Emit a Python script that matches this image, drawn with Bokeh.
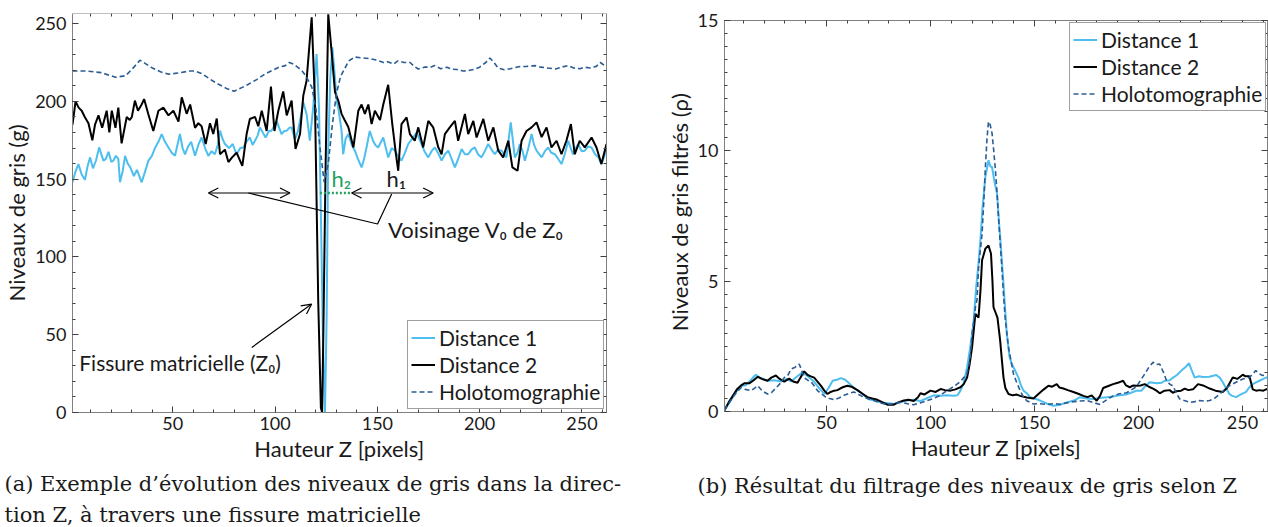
from bokeh.plotting import figure
from bokeh.models import (Legend, LegendItem, LinearAxis, SingleIntervalTicker,
                          Range1d, Arrow, OpenHead, Label, Title)
from bokeh.layouts import row
from bokeh.embed import file_html
from bokeh.resources import INLINE

# ---------------- data: (a) grey levels along Z ----------------
a_d1_z = [1, 2.5, 3.9, 5.5, 7.1, 8.3, 9.6, 11, 12.5, 14, 16.1, 17.3, 18.6, 20, 21, 22.2, 23.4, 24.2, 25.5, 26.7,
          28, 29.1, 31, 32.5, 34.8, 36.5, 38.1, 39.8, 41.3, 43, 44.6, 46.2, 47.9, 49.5, 51.1, 53.5, 54.8, 56, 57.5,
          59, 60.9, 62.5, 64.1, 65.8, 67.4, 69, 70.6, 72, 73.1, 74.3, 75.5, 77.5, 79.3, 81.2, 83, 84.5, 86, 87.7,
          89, 90.2, 91.5, 92.6, 94, 95.4, 97, 98.3, 99.5, 100.8, 102, 103.2, 104.5, 105.7, 107, 108.1, 109.7, 111,
          112.2, 113.8, 115.4, 117, 118.7, 120.3, 121.5, 122.5, 123.5, 124.4, 125.2, 126, 127, 128, 129.3, 130.1,
          131, 132.5, 133.3, 134.5, 135.8, 137.5, 139, 140.5, 142.3, 143.5, 144.7, 146.3, 147.9, 149, 150.4, 152.9,
          155.3, 157, 158.6, 160, 161.8, 163.5, 165.1, 167, 169.2, 171.6, 173, 174.9, 176.5, 178.1, 180, 181.4, 183,
          184.7, 186.3, 187.9, 189.5, 191.2, 192.8, 194.4, 196, 197.6, 199.2, 200.9, 202.5, 204.2, 205.8, 207.4, 209,
          210.7, 213.1, 215.2, 217.2, 218.5, 219.6, 221, 222.1, 223.8, 225.4, 226.6, 227.8, 230.3, 231.9, 233.5, 235,
          236.8, 238.4, 240, 241.6, 243.3, 244.5, 245.7, 247, 248.2, 249.8, 251.4, 253, 254.7, 256.4, 258, 259.5,
          261, 262]
a_d1_v = [148, 155, 159.7, 153, 149.6, 158, 164, 157, 162, 170.4, 161.9, 163, 167.6, 161, 162, 165, 163, 148, 155,
          165, 160, 158, 152, 156, 148, 155, 161.9, 165, 170, 174, 179, 174, 170.4, 167, 165, 179, 170, 166, 171,
          174, 165, 172, 176.8, 170, 165, 168, 166, 172, 181.2, 176, 172.6, 170, 172.6, 166, 170, 170.4, 174, 176.8,
          172, 174.7, 178, 183.3, 180, 176.8, 181, 181.2, 184, 187.5, 183, 179, 181, 181.2, 183, 183.3, 175.8, 180,
          187.5, 199.4, 191.9, 174.7, 197, 230.5, 195, 120, 40, 0, 60, 170, 215, 234.7, 215, 200.5,
          195, 181.2, 166, 176, 179, 172, 168.3, 163, 157.6, 163, 170.4, 181, 174.7, 172, 170.4, 176.8,
          164, 170, 168.3, 165, 161.9, 167, 172.6, 176, 180, 172.6, 168, 164, 168, 170.4, 166, 161.9, 166,
          168.3, 163, 157.6, 163, 169.3, 166, 166, 169, 170.4, 166, 164, 168, 172.6, 169, 166, 169,
          168.3, 164, 186.5, 164, 167, 172.6, 168, 161.9, 170, 179, 172, 168.3, 164, 168, 170.4, 167,
          166, 163, 159.7, 166, 174.7, 170, 166, 170, 172.6, 168, 168.3, 171, 170.4, 166, 164, 159.7,
          165, 170.4]

a_d2_z = [1, 2.5, 4, 5.5, 7, 8.8, 10.7, 12, 13.7, 15.5, 17.7, 19, 20.2, 22, 23.4, 25, 27.5, 29, 30, 31.5, 33, 34.8,
          36, 38, 40.5, 43, 45.4, 47.9, 50.3, 52.8, 54.4, 56.8, 58.5, 60.9, 62.5, 64.1, 66.1, 68.2, 69.8, 71.5, 73.1,
          75.5, 77.2, 79, 81.2, 84, 86.1, 87.7, 90.2, 91.8, 93.5, 95.9, 98, 99.7, 101.6, 104, 105.7, 108.1, 110,
          112.2, 113.8, 115.4, 117.9, 119.5, 121.1, 122.4, 123, 123.6, 124.7, 126, 127.6, 129.3, 130.9, 132.5, 134,
          135.8, 138.3, 140.7, 142.3, 143.9, 145.6, 147.2, 148.8, 151.3, 152.9, 155.3, 157.3, 159.1, 160.2, 161.8,
          164.3, 165.9, 168.3, 170, 172.4, 174.9, 177.3, 179.8, 181.4, 183, 185.4, 187.9, 189.5, 192.8, 194.4, 196.9,
          198.5, 201.8, 204.2, 206.7, 209.1, 211.5, 214, 216, 218.5, 220.5, 222.9, 225.4, 227.8, 230.3, 232.7, 235.1,
          237.6, 240, 242.4, 244.6, 246.5, 248.9, 251.4, 254.7, 257.1, 259.5, 262]
a_d2_v = [185, 200, 196, 194, 190, 186, 175, 185, 191, 183, 194, 180, 194, 183, 196, 173, 190, 188, 190, 200.5, 194,
          198, 201.5, 192, 181, 194, 196, 191, 194, 187, 202.6, 192, 198, 183, 186, 184, 172.6, 186, 179, 189, 166,
          169, 161, 164, 167, 158.6, 179, 188.7, 190, 184, 194, 181, 209.5, 181, 194, 206.4, 191, 200.5, 169.4,
          179, 203.7, 213.3, 254, 200.5, 71.8, 3, 0, 50, 157.6, 256, 232.6, 206, 200.5, 192, 188,
          183.5, 170.4, 194, 198, 192, 198, 185.4, 194, 188, 198, 210.7, 185.4, 166, 155.4, 185.4,
          189.7, 179, 174.7, 183.3, 170.4, 187.5, 183.3, 170.4, 166, 179, 183.3, 187.5, 174.7, 191.9, 179, 187.5,
          176.8, 188.7, 174.7, 183.3, 168.3, 164, 174.7, 157.6, 155.4, 174.7, 181, 183.3, 186.5, 177, 183.3, 170.4,
          174.7, 166, 174.7, 185.4, 166, 174.7, 170.4, 176.8, 170.4, 159.7, 172.6]

a_ho_z = [1, 8, 15, 22, 27, 31, 34, 37, 40, 44, 48, 54, 58, 61, 64, 68, 71, 76, 80, 84, 87, 91, 95, 98, 102, 105,
          107, 109, 111, 113, 115, 118, 120, 122, 124, 126, 128, 130, 132, 134, 136, 139, 142, 146, 150, 153, 155,
          158, 160, 163, 166, 168, 170, 173, 176, 178, 181, 184, 186, 189, 192, 194, 197, 200, 203, 205, 207, 209,
          212, 215, 219, 223, 227, 230, 233, 237, 240, 243, 246, 249, 251, 254, 257, 259, 261, 262]
a_ho_v = [219.5, 219.5, 218.5, 215.5, 216.5, 222, 226.5, 224, 221.5, 219, 217.5, 218.5, 219.5, 219.5, 218, 214.5,
          212, 208.5, 206.5, 209, 211, 214, 217.5, 219.5, 222, 223, 225, 224, 222, 220, 216.5, 209, 195, 170, 148,
          160, 185, 205, 216, 221, 226, 228.5, 228, 227.5, 226.5, 225, 225.5, 224, 226, 225, 225, 222.5, 220.8, 222,
          222, 223, 221, 222, 220.8, 220.5, 219.5, 219.7, 220.5, 222, 225, 227.9, 225, 221.5, 220.3, 221, 222.3,
          222.5, 223, 222, 221.5, 220.8, 222, 223, 221.5, 221, 222, 221.5, 222.5, 225, 223, 223]

# ---------------- data: (b) filtered grey levels ----------------
b_d1_z = [1, 3, 5, 7, 9, 11, 13, 16, 18, 21.7, 25, 28, 31, 33, 36, 38.5, 41, 44, 46.5, 49, 51, 53, 55, 57, 59, 60,
          62, 65, 67, 70, 73, 76, 79, 82.4, 85, 88.8, 92, 95, 98, 101.6, 105, 108, 111, 113, 114.4, 116, 117.6, 119,
          120.7, 122, 123, 124, 125, 126.4, 127.9, 128.8, 129.6, 130.8, 132, 133, 133.5, 134.3, 135.1, 136, 136.7,
          138, 139.1, 140.5, 142.3, 143.5, 144.7, 146.3, 147.9, 150, 152.7, 156, 159.1, 162, 165.5, 169, 171.9, 175,
          178.2, 181, 184.7, 188, 191, 194, 197.4, 199, 201.4, 203, 205.4, 207, 208.6, 211, 212.6, 215, 216.6, 218.5,
          220.6, 222.5, 224.3, 225.5, 227, 229, 231, 234, 237.4, 239, 240.5, 242, 243.7, 245, 246.9, 249, 251.7, 253,
          254.9, 256.5, 258.1, 260, 261.3, 262]
b_d1_v = [0.05, 0.3, 0.55, 0.8, 0.99, 1.0, 1.15, 1.41, 1.3, 1.18, 1.2, 1.15, 1.25, 1.15, 1.35, 1.5, 1.35, 1.15, 0.9,
          0.67, 0.9, 1.18, 1.22, 1.28, 1.22, 1.15, 1.0, 0.8, 0.7, 0.48, 0.42, 0.35, 0.33, 0.29, 0.35, 0.42, 0.45, 0.4,
          0.5, 0.62, 0.6, 0.62, 0.6, 0.62, 0.8, 1.1, 1.7, 2.4, 3.4, 4.8, 5.6, 6.57, 7.8, 9.0, 9.64, 9.4, 9.38, 8.8,
          8.36, 7.2, 6.69, 5.8, 4.9, 3.8, 2.98, 2.1, 1.82, 1.6, 1.3, 1.0, 0.8, 0.7, 0.55, 0.5, 0.42, 0.3, 0.22, 0.25,
          0.35, 0.42, 0.55, 0.5, 0.48, 0.52, 0.55, 0.58, 0.62, 0.65, 0.75, 0.8, 0.8, 0.95, 1.12, 1.1, 1.08, 1.1,
          1.18, 1.2, 1.3, 1.4, 1.57, 1.7, 1.85, 1.6, 1.3, 1.35, 1.32, 1.33, 1.4, 1.3, 1.12, 0.9, 0.67, 0.6, 0.55,
          0.65, 0.75, 0.9, 1.05, 1.12, 1.18, 1.25, 1.3, 1.3]

b_d2_z = [1, 3, 5, 7, 9, 10.5, 12.9, 15, 17, 19, 21.7, 23.5, 25.7, 27.5, 29.7, 32.1, 34, 36.1, 37.5, 39.3, 41, 42.5,
          44.1, 45.7, 47.3, 49, 50.5, 52, 53.7, 55.3, 57, 58.5, 60.1, 62, 64.9, 67, 69.7, 72, 74.5, 77, 79.3, 82.4,
          84.5, 87.2, 89.5, 92, 94, 95.2, 97, 100, 102.5, 104.8, 107, 109.6, 112, 114.4, 116, 117.6, 118.8, 120,
          121.6, 123.1, 124, 124.8, 126.4, 127.9, 129.1, 129.8, 130.3, 132.2, 133.5, 134.3, 135.1, 136, 137.5,
          139.5, 141.5, 143.1, 146.3, 149.5, 152.7, 154.5, 156.7, 158.5, 160.7, 162, 163.9, 166, 168.7, 171, 173.5,
          175.5, 177.5, 179.9, 181.5, 183, 185.5, 187.8, 190, 192.6, 194, 195.8, 197.5, 199, 201, 203, 205, 207,
          209, 210.2, 212.5, 215, 216.5, 218.2, 220.5, 222.2, 224, 226.2, 228.6, 231, 234.2, 237, 240.5, 242.5,
          245.3, 247.5, 250.1, 251.5, 253.3, 254.9, 256.5, 258.1, 260, 261.3, 262]
b_d2_v = [0.05, 0.35, 0.6, 0.85, 1.0, 1.08, 1.08, 1.2, 1.33, 1.25, 1.18, 1.3, 1.38, 1.25, 1.15, 1.26, 1.15, 1.1, 1.3,
          1.54, 1.4, 1.35, 1.3, 1.15, 0.99, 0.8, 0.67, 0.75, 0.8, 0.82, 0.9, 0.95, 0.99, 0.95, 0.82, 0.7, 0.55, 0.5,
          0.45, 0.35, 0.26, 0.26, 0.35, 0.42, 0.45, 0.4, 0.55, 0.7, 0.65, 0.8, 0.75, 0.86, 0.82, 0.8, 0.85, 0.93,
          1.05, 1.3, 1.8, 2.46, 3.75, 3.6, 4.6, 5.8, 6.25, 6.37, 6.05, 5.0, 4.0, 3.6, 2.72, 2.0, 1.31, 0.9, 0.67,
          0.62, 0.65, 0.6, 0.54, 0.5, 0.73, 0.85, 0.99, 0.95, 1.05, 0.92, 0.88, 0.82, 0.75, 0.68, 0.6, 0.55, 0.62,
          0.41, 0.6, 0.9, 0.98, 1.05, 1.1, 1.18, 1.0, 0.93, 1.0, 0.99, 1.0, 1.05, 0.95, 0.88, 0.78, 0.7, 0.8, 0.82,
          0.72, 0.78, 0.8, 0.88, 0.82, 0.85, 1.05, 1.0, 0.88, 0.8, 0.75, 0.9, 1.31, 1.25, 1.41, 1.35, 1.35, 0.85,
          0.8, 0.82, 0.8, 0.85, 0.85]

b_ho_z = [1, 3, 5, 7, 9, 11, 13.8, 15.5, 17, 19, 21.7, 23.5, 25.7, 27.5, 29.7, 31.5, 33, 35, 36.9, 38, 39.3, 41,
          42.5, 44, 45.7, 47.5, 49.7, 51.5, 53.7, 56, 58.5, 61, 63.2, 65.5, 68, 70.5, 72.8, 76, 79.3, 82, 85.6, 89,
          92, 95, 98.4, 101.5, 104.8, 107, 109.6, 112, 114.4, 116, 117.6, 119, 120, 121.6, 122.4, 123.1, 124.8,
          125.6, 126.4, 127.2, 127.9, 128.7, 129.6, 130.3, 131.1, 132, 132.7, 133.5, 134.3, 135.1, 135.9, 137.5,
          139.9, 141.5, 143.1, 144.7, 146.3, 149.5, 152.7, 155.9, 159, 162.3, 165.5, 168.7, 171.9, 175.1, 178,
          181.5, 184.7, 187.8, 191, 194.3, 197, 199, 201, 203, 205, 207, 208.6, 210.2, 212, 213.4, 215, 216.6,
          218.2, 219.8, 222, 224.6, 227, 229.4, 232, 234.2, 236.5, 239, 241.5, 243.7, 246.9, 250.1, 253.3, 255,
          256.4, 258, 259.6, 261.3, 262]
b_ho_v = [0.05, 0.3, 0.55, 0.75, 0.92, 0.85, 0.8, 0.9, 0.99, 0.8, 0.67, 0.72, 0.9, 1.05, 1.3, 1.4, 1.63, 1.7, 1.82,
          1.6, 1.3, 1.2, 1.15, 1.0, 0.8, 0.68, 0.55, 0.5, 0.45, 0.52, 0.62, 0.7, 0.75, 0.65, 0.55, 0.48, 0.42, 0.33,
          0.26, 0.3, 0.35, 0.3, 0.26, 0.33, 0.42, 0.5, 0.62, 0.75, 0.88, 1.0, 1.15, 1.3, 1.47, 2.0, 2.98, 4.0, 4.3,
          5.5, 6.82, 8.0, 9.38, 10.5, 11.12, 11.0, 10.67, 10.1, 9.38, 8.4, 7.46, 6.5, 5.54, 4.5, 3.6, 2.46, 1.44,
          1.1, 0.8, 0.55, 0.41, 0.29, 0.3, 0.27, 0.3, 0.28, 0.33, 0.38, 0.4, 0.42, 0.35, 0.27, 0.45, 0.6, 0.68,
          0.72, 0.85, 0.95, 1.2, 1.44, 1.7, 1.89, 1.8, 1.82, 1.5, 1.2, 1.05, 0.98, 0.7, 0.48, 0.42, 0.35, 0.38,
          0.42, 0.4, 0.42, 0.5, 0.67, 0.85, 0.99, 1.12, 1.25, 1.3, 1.45, 1.57, 1.45, 1.38, 1.4, 1.4]

series_names = ["Distance 1", "Distance 2", "Holotomographie"]
x_label = "Hauteur Z [pixels]"
ya_label = "Niveaux de gris (g)"
yb_label = "Niveaux de gris filtrés (ρ)"
caption_a1 = "(a) Exemple d’évolution des niveaux de gris dans la direc-"
caption_a2 = "tion Z, à travers une fissure matricielle"
caption_b = "(b) Résultat du filtrage des niveaux de gris selon Z"

# ---------------- styles ----------------
C_D1 = "#4DBEEE"
C_D2 = "#000000"
C_HO = "#2B5C94"
C_GREEN = "#23A25F"
SANS = "Lato"
SERIF = "DejaVu Serif"
AX_LINE = "#808080"
TICK = "#404040"
TXT = "#1a1a1a"


def style_axis(ax, interval, minor, labels=True, label_standoff=6):
    ax.ticker = SingleIntervalTicker(interval=interval, num_minor_ticks=minor)
    ax.axis_line_color = AX_LINE
    ax.axis_line_width = 1
    ax.major_tick_in = 6
    ax.major_tick_out = 0
    ax.minor_tick_in = 3
    ax.minor_tick_out = 0
    ax.major_tick_line_color = TICK
    ax.minor_tick_line_color = TICK
    if labels:
        ax.major_label_text_font = SANS
        ax.major_label_text_font_size = "18px"
        ax.major_label_text_color = TXT
        ax.major_label_standoff = label_standoff
        ax.axis_label_text_font = SANS
        ax.axis_label_text_font_size = "22px"
        ax.axis_label_text_font_style = "normal"
        ax.axis_label_text_color = TXT
    else:
        ax.major_label_text_font_size = "1px"
        ax.major_label_text_color = None
        ax.major_label_standoff = 0


def make_fig(fw, fh, xr, yr, bl, br, bt, bb, yint, yminor, xlabel, ylabel, ystand, ytop):
    p = figure(frame_width=fw, frame_height=fh, x_range=Range1d(*xr), y_range=Range1d(*yr),
               output_backend="svg", toolbar_location=None,
               min_border_left=bl, min_border_right=br, min_border_top=bt, min_border_bottom=bb,
               x_axis_label=xlabel, y_axis_label=ylabel)
    p.outline_line_color = None
    p.grid.visible = False
    style_axis(p.xaxis[0], 50, 5, label_standoff=4)
    style_axis(p.yaxis[0], yint, yminor, label_standoff=ystand)
    p.yaxis[0].bounds = (yr[0], ytop)
    p.xaxis[0].axis_label_standoff = 2
    p.yaxis[0].axis_label_standoff = 2
    top = LinearAxis(fixed_location=ytop)
    style_axis(top, 50, 5, labels=False)
    right = LinearAxis(bounds=(yr[0], ytop))
    style_axis(right, yint, yminor, labels=False)
    p.add_layout(top, "above")
    p.add_layout(right, "right")
    return p


def add_legend(p, renderers, loc):
    items = [LegendItem(label=n, renderers=[r]) for n, r in zip(series_names, renderers)]
    leg = Legend(items=items, location=loc)
    leg.label_text_font = SANS
    leg.label_text_font_size = "21px"
    leg.label_text_color = TXT
    leg.glyph_width = 24
    leg.glyph_height = 27
    leg.label_height = 27
    leg.spacing = 0
    leg.padding = 3
    leg.margin = 0
    leg.label_standoff = 4
    leg.border_line_color = "#404040"
    leg.border_line_width = 1
    leg.background_fill_alpha = 1
    p.add_layout(leg)


def sans_label(p, x, y, text, color=TXT, size="21px", align="left", baseline="middle"):
    p.add_layout(Label(x=x, y=y, text=text, text_font=SANS, text_font_size=size, text_color=color,
                       text_align=align, text_baseline=baseline))


def caption(p, text, offset, standoff):
    t = Title(text=text, align="left", offset=offset, standoff=standoff, text_font=SERIF,
              text_font_size="21px", text_font_style="normal", text_color=TXT)
    p.add_layout(t, "below")


# ---------------- figure (a) ----------------
pa = make_fig(534, 399, (1, 262), (0, 256.5), 64, 40, 13, 100, 50, 5, x_label, ya_label, 6, 256.5)
r1 = pa.line(a_d1_z, a_d1_v, line_color=C_D1, line_width=2)
r2 = pa.line(a_d2_z, a_d2_v, line_color=C_D2, line_width=2)
r3 = pa.line(a_ho_z, a_ho_v, line_color=C_HO, line_width=1.6, line_dash="5 3")

# annotations
arrow_v = 141.1
for z0, z1 in [(67.4, 107.3), (137.4, 177.3)]:
    pa.add_layout(Arrow(start=OpenHead(size=10, line_width=1.2), end=OpenHead(size=10, line_width=1.2),
                        x_start=z0, y_start=arrow_v, x_end=z1, y_end=arrow_v, line_width=1.2))
pa.line([121.9, 136.9], [arrow_v, arrow_v], line_color=C_GREEN, line_width=2.5, line_dash="2 2")
callout_z = [87, 150.1, 157]
callout_v = [arrow_v, 121.2, 140.4]
pa.line(callout_z, callout_v, line_color="black", line_width=1.2)
pa.add_layout(Arrow(end=OpenHead(size=10, line_width=1.2), x_start=88.6, y_start=41.8, x_end=117.9, y_end=69.7,
                    line_width=1.2))
sans_label(pa, 4.3, 32.2, "Fissure matricielle (Z₀)")
sans_label(pa, 155.2, 117.9, "Voisinage V₀ de Z₀", size="22px")
sans_label(pa, 127.6, 150.3, "h₂", color=C_GREEN, baseline="alphabetic", size="22px")
sans_label(pa, 154.5, 150.3, "h₁", baseline="alphabetic", size="22px")
add_legend(pa, [r1, r2, r3], (335, 3))
caption(pa, caption_a1, -68, 10)
caption(pa, caption_a2, -68, 0)

# ---------------- figure (b) ----------------
# plot frames in a row share their top edge; the axes box of (b) is closed at y = 15 as in the reference
pb = make_fig(543, 398, (1, 262), (0, 15.27), 78, 1, 13, 90, 5, 10, x_label, yb_label, 6, 15)
s1 = pb.line(b_d1_z, b_d1_v, line_color=C_D1, line_width=2)
s2 = pb.line(b_d2_z, b_d2_v, line_color=C_D2, line_width=2)
s3 = pb.line(b_ho_z, b_ho_v, line_color=C_HO, line_width=1.6, line_dash="5 3")
add_legend(pb, [s1, s2, s3], (345, 300))
caption(pb, caption_b, -27, 17)

layout = row(pa, pb)
open("out.html", "w").write(file_html(layout, INLINE))
